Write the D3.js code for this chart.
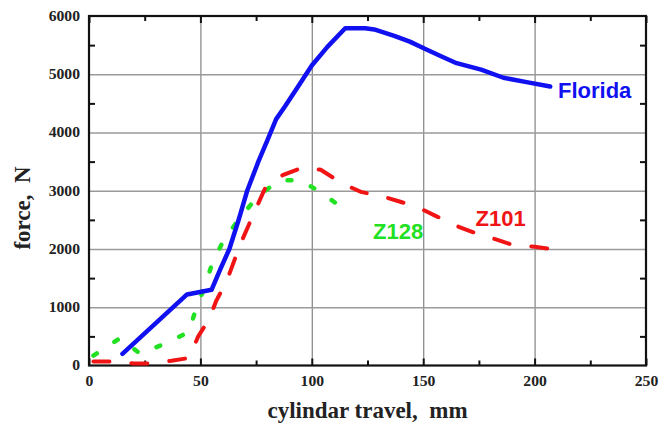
<!DOCTYPE html>
<html>
<head>
<meta charset="utf-8">
<script src="https://cdn.jsdelivr.net/npm/d3@7"></script>
<style>
  body { margin: 0; background: #fff; }
  svg { display: block; }
</style>
</head>
<body>
<div id="chart"></div>
<script>
// [travel mm, force N]
const florida = [[15,200],[44,1220],[55,1300],[59,1660],[63,2000],[67,2480],[71,3000],[76,3500],[80,3860],[84,4230],[88,4450],[94,4800],[100,5150],[107,5470],[115,5790],[124,5790],[128,5770],[137,5660],[144,5560],[150,5450],[158,5310],[165,5190],[176,5080],[186,4940],[197,4860],[207,4790]];
const z101 = [[2,70],[11,70],[20,35],[27,35],[37,80],[45,130],[49,500],[54,800],[57,1100],[62,1470],[68,2090],[75,2700],[79,3040],[87,3270],[96,3400],[104,3360],[113,3140],[122,2980],[131,2910],[139,2820],[148,2710],[156,2560],[166,2380],[173,2280],[183,2160],[190,2070],[200,2040],[207,2000]];
const z128 = [[2,170],[14,470],[23,200],[35,390],[45,580],[48,980],[52,1350],[55,1720],[60,2120],[67,2500],[75,2870],[85,3180],[95,3180],[105,2950],[116,2640]];

const xTicks = [0, 50, 100, 150, 200, 250];
const yTicks = [0, 1000, 2000, 3000, 4000, 5000, 6000];
const xMinor = [25, 75, 125, 175, 225];
const yMinor = [500, 1500, 2500, 3500, 4500, 5500];

const seriesLabels = [
  { text: "Florida", x: 210.5, y: 4600, color: "#1010f0" },
  { text: "Z101", x: 173.5, y: 2400, color: "#f01414" },
  { text: "Z128", x: 127.5, y: 2170, color: "#22e022" }
];

const W = 659, H = 427;
const margin = { top: 16, right: 13, bottom: 61.5, left: 89 };
const width = W - margin.left - margin.right;
const height = H - margin.top - margin.bottom;

const svg = d3.select("#chart").append("svg")
  .attr("width", W)
  .attr("height", H);

const g = svg.append("g")
  .attr("transform", `translate(${margin.left},${margin.top})`);

const x = d3.scaleLinear().domain([0, 250]).range([0, width]);
const y = d3.scaleLinear().domain([0, 6000]).range([height, 0]);

// grid
g.append("g")
  .attr("transform", `translate(0,${height})`)
  .call(d3.axisBottom(x).tickValues([50, 100, 150, 200]).tickSize(-height).tickFormat(""))
  .call(a => a.select(".domain").remove())
  .call(a => a.selectAll("line").attr("stroke", "#8c8c8c").attr("stroke-width", 1.3));
g.append("g")
  .call(d3.axisLeft(y).tickValues([1000, 2000, 3000, 4000, 5000]).tickSize(-width).tickFormat(""))
  .call(a => a.select(".domain").remove())
  .call(a => a.selectAll("line").attr("stroke", "#9a9a9a").attr("stroke-width", 1.3));

// inward ticks on all four sides
function ticks(axis, vals, size, tr) {
  g.append("g")
    .attr("transform", tr)
    .call(axis.tickValues(vals).tickSize(-size).tickFormat(""))
    .call(a => a.select(".domain").remove())
    .call(a => a.selectAll("line").attr("stroke", "#111").attr("stroke-width", 2));
}
ticks(d3.axisBottom(x), xTicks, 7, `translate(0,${height})`);
ticks(d3.axisBottom(x), xMinor, 5, `translate(0,${height})`);
ticks(d3.axisTop(x), xTicks, 7, "translate(0,0)");
ticks(d3.axisTop(x), xMinor, 5, "translate(0,0)");
ticks(d3.axisLeft(y), yMinor, 6, "translate(0,0)");
ticks(d3.axisRight(y), yMinor, 6, `translate(${width},0)`);

// frame
g.append("rect")
  .attr("width", width)
  .attr("height", height)
  .attr("fill", "none")
  .attr("stroke", "#111")
  .attr("stroke-width", 2.2);

// tick labels
g.append("g")
  .attr("transform", `translate(0,${height})`)
  .call(d3.axisBottom(x).tickValues(xTicks).tickFormat(d3.format("d")).tickSize(0).tickPadding(11))
  .call(a => a.select(".domain").remove())
  .call(a => a.selectAll("text")
    .attr("font-family", "'Liberation Serif', 'Times New Roman', serif")
    .attr("font-weight", "bold")
    .attr("font-size", 14)
    .attr("fill", "#222")
    .attr("transform", "scale(1.12,1)"));
g.append("g")
  .call(d3.axisLeft(y).tickValues(yTicks).tickFormat(d3.format("d")).tickSize(0).tickPadding(8))
  .call(a => a.select(".domain").remove())
  .call(a => a.selectAll("text")
    .attr("font-family", "'Liberation Serif', 'Times New Roman', serif")
    .attr("font-weight", "bold")
    .attr("font-size", 14)
    .attr("fill", "#222")
    .attr("transform", "scale(1.12,1)"));

// axis titles
svg.append("text")
  .attr("x", margin.left + width / 2)
  .attr("y", 418)
  .attr("text-anchor", "middle")
  .attr("font-family", "'Liberation Serif', 'Times New Roman', serif")
  .attr("font-weight", "bold")
  .attr("font-size", 23)
  .attr("fill", "#222")
  .style("white-space", "pre")
  .text("cylindar travel,  mm");

svg.append("text")
  .attr("transform", "translate(30,208) rotate(-90)")
  .attr("text-anchor", "middle")
  .attr("font-family", "'Liberation Serif', 'Times New Roman', serif")
  .attr("font-weight", "bold")
  .attr("font-size", 23)
  .attr("fill", "#222")
  .style("white-space", "pre")
  .text("force,  N");

// lines
const line = d3.line()
  .x(d => x(d[0]))
  .y(d => y(d[1]));

g.append("path")
  .datum(z128)
  .attr("fill", "none")
  .attr("stroke", "#22e022")
  .attr("stroke-width", 4.5)
  .attr("stroke-linecap", "round")
  .attr("stroke-dasharray", "4,21")
  .attr("d", line);

g.append("path")
  .datum(z101)
  .attr("fill", "none")
  .attr("stroke", "#f01414")
  .attr("stroke-width", 4)
  .attr("stroke-linecap", "round")
  .attr("stroke-dasharray", "16,22")
  .attr("d", line);

g.append("path")
  .datum(florida)
  .attr("fill", "none")
  .attr("stroke", "#1010f0")
  .attr("stroke-width", 4.5)
  .attr("stroke-linecap", "round")
  .attr("stroke-linejoin", "round")
  .attr("d", line);

// series labels
g.selectAll(".slabel")
  .data(seriesLabels)
  .enter()
  .append("text")
    .attr("class", "slabel")
    .attr("x", d => x(d.x))
    .attr("y", d => y(d.y))
    .attr("font-family", "'Liberation Sans', Arial, sans-serif")
    .attr("font-weight", "bold")
    .attr("font-size", 22)
    .attr("fill", d => d.color)
    .text(d => d.text);
</script>
</body>
</html>
